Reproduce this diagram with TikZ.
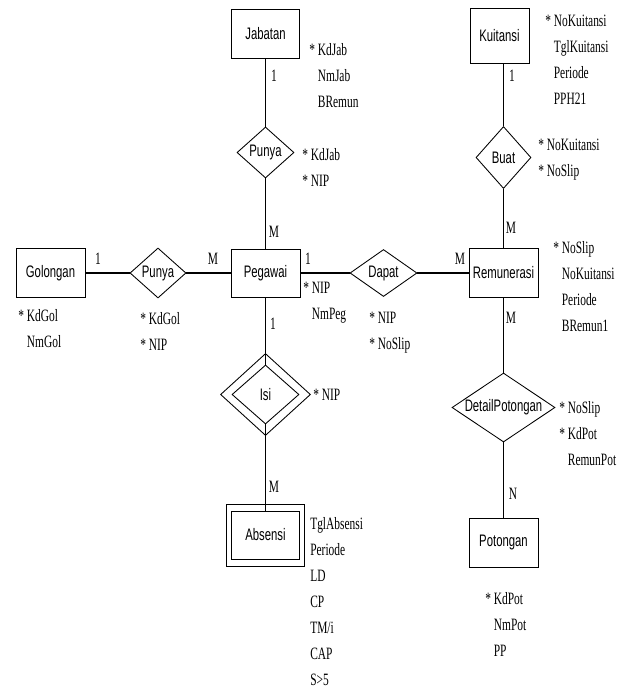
\documentclass[tikz,border=0pt]{standalone}
\usepackage{fontspec}
\setmainfont{Liberation Serif}[FakeStretch=0.66]
\newfontfamily\labelfont{Liberation Sans}[FakeStretch=0.68]
\usetikzlibrary{shapes.geometric}
\newcommand{\ky}{*\,}
\newcommand{\nk}{\phantom{*\,}}
\begin{document}
\begin{tikzpicture}[x=0.75pt,y=-0.75pt,
  entity/.style={draw, line width=0.65pt, inner sep=0pt, minimum width=51.75pt, minimum height=36.75pt, font=\labelfont\fontsize{12.5}{14}\selectfont},
  rel/.style={draw, diamond, line width=0.65pt, inner sep=0pt, font=\labelfont\fontsize{12.5}{14}\selectfont},
  attr/.style={anchor=north west, inner sep=0pt, align=left, font=\fontsize{13}{19.5}\selectfont},
  card/.style={inner sep=0pt, font=\fontsize{13}{14}\selectfont},
  vlink/.style={line width=0.75pt},
  hlink/.style={line width=1.4pt}]
\useasboundingbox (0,0) rectangle (619,690);

% entities
\node[entity, minimum width=51pt] (jabatan) at (265.5,33.5) {Jabatan};
\node[entity, minimum width=44.25pt, minimum height=41.25pt] (kuitansi) at (499.5,36) {Kuitansi};
\node[entity] (golongan) at (50.5,273) {Golongan};
\node[entity, minimum height=36pt] (pegawai) at (265.5,273) {Pegawai};
\node[entity] (remunerasi) at (503.5,273) {Remunerasi};
\node[entity] (potongan) at (503.5,542.5) {Potongan};
\node[draw, line width=0.65pt, minimum width=58.5pt, minimum height=46.5pt, inner sep=0pt] (absensiouter) at (265.5,535) {};
\node[entity, minimum width=51pt, minimum height=36pt] (absensi) at (265.5,535) {Absensi};

% relationships
\node[rel, aspect=1.12, minimum width=42.75pt, minimum height=38.25pt] (punyaA) at (265.5,152.5) {Punya};
\node[rel, aspect=0.89, minimum width=41.25pt, minimum height=46.5pt] (buat) at (503.5,157.5) {Buat};
\node[rel, aspect=1.12, minimum width=42pt, minimum height=37.5pt] (punyaB) at (158,273) {Punya};
\node[rel, aspect=1.43, minimum width=50.25pt, minimum height=35.25pt] (dapat) at (383.5,273) {Dapat};
\node[rel, aspect=1.49, minimum width=77.25pt, minimum height=51.75pt] (detailpot) at (503.5,407.5) {DetailPotongan};
\node[rel, aspect=1.1, minimum width=67.5pt, minimum height=61.5pt] (isiouter) at (265.5,394.5) {};
\node[rel, aspect=1.14, minimum width=50.25pt, minimum height=44.25pt] (isi) at (265.5,394.5) {Isi};

% connectors
\draw[vlink] (jabatan) -- (punyaA);
\draw[vlink] (punyaA) -- (pegawai);
\draw[vlink] (buat |- kuitansi.south) -- (buat);
\draw[vlink] (buat) -- (remunerasi);
\draw[vlink] (pegawai) -- (isi);
\draw[vlink] (isi) -- (absensi);
\draw[vlink] (remunerasi) -- (detailpot);
\draw[vlink] (detailpot) -- (potongan);
\draw[hlink] (golongan) -- (punyaB);
\draw[hlink] (punyaB) -- (pegawai);
\draw[hlink] (pegawai) -- (dapat);
\draw[hlink] (dapat) -- (remunerasi);

% cardinalities
\node[card] (c1) at (274,76) {1};
\node[card] (c2) at (512,76) {1};
\node[card] (c3) at (274,232) {M};
\node[card] (c4) at (511,228) {M};
\node[card] (c5) at (98,259) {1};
\node[card] (c6) at (213,259) {M};
\node[card] (c7) at (308,259) {1};
\node[card] (c8) at (460,259) {M};
\node[card] (c9) at (273,324) {1};
\node[card] (c10) at (511,318) {M};
\node[card] (c11) at (274,487) {M};
\node[card] (c12) at (513,494) {N};

% attributes
\node[attr] (jabattr) at (309,43) {\ky KdJab\\ \nk NmJab\\ \nk BRemun};
\node[attr] (punyaAattr) at (302,148) {\ky KdJab\\ \ky NIP};
\node[attr] (kuitattr) at (545,15) {\ky NoKuitansi\\ \nk TglKuitansi\\ \nk Periode\\ \nk PPH21};
\node[attr] (buatattr) at (538,139) {\ky NoKuitansi\\ \ky NoSlip};
\node[attr] (golattr) at (18,309) {\ky KdGol\\ \nk NmGol};
\node[attr] (punyaBattr) at (140,312) {\ky KdGol\\ \ky NIP};
\node[attr] (pegattr) at (303,282) {\ky NIP\\ \nk NmPeg};
\node[attr] (dapatattr) at (369,312) {\ky NIP\\ \ky NoSlip};
\node[attr] (remattr) at (553,241) {\ky NoSlip\\ \nk NoKuitansi\\ \nk Periode\\ \nk BRemun1};
\node[attr] (isiattr) at (313,389) {\ky NIP};
\node[attr] (dpattr) at (559,401) {\ky NoSlip\\ \ky KdPot\\ \nk RemunPot};
\node[attr] (absattr) at (310,517) {TglAbsensi\\ Periode\\ LD\\ CP\\ TM/i\\ CAP\\ S>5};
\node[attr] (potattr) at (485,592) {\ky KdPot\\ \nk NmPot\\ \nk PP};
\end{tikzpicture}
\end{document}
